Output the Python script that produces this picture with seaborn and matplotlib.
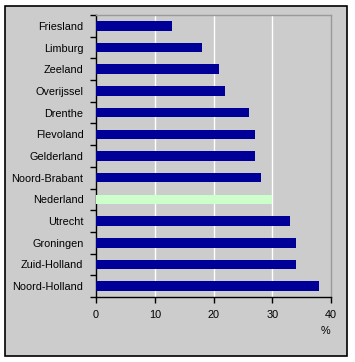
import matplotlib
matplotlib.use("Agg")
import matplotlib.pyplot as plt
import seaborn as sns
import pandas as pd
from matplotlib.patches import Rectangle

provinces = ["Friesland", "Limburg", "Zeeland", "Overijssel", "Drenthe", "Flevoland",
             "Gelderland", "Noord-Brabant", "Nederland", "Utrecht", "Groningen",
             "Zuid-Holland", "Noord-Holland"]
values = [13, 18, 21, 22, 26, 27, 27, 28, 30, 33, 34, 34, 38]
x_ticks = [0, 10, 20, 30, 40]
unit_label = "%"

df = pd.DataFrame({"provincie": provinces, "waarde": values})
colors = {p: ("#CCFFCC" if p == "Nederland" else "#000099") for p in provinces}

sns.set_theme(style="white")
plt.rcParams['font.family'] = ['Liberation Sans', 'DejaVu Sans']

W, H, DPI = 355, 362, 100
fig = plt.figure(figsize=(W / DPI, H / DPI), dpi=DPI)
fig.patch.set_facecolor("white")

# outer frame
frame = Rectangle((5 / W, 6 / H), 342 / W, 350 / H, transform=fig.transFigure,
                  facecolor="#CCCCCC", edgecolor="black", linewidth=1.2, zorder=-10)
fig.patches.append(frame)

ax = fig.add_axes([96 / W, 1 - 297 / H, 235 / W, 282 / H])
ax.set_zorder(1)
ax.set_facecolor("#CCCCCC")
sns.barplot(data=df, x="waarde", y="provincie", hue="provincie", palette=colors,
            order=provinces, orient="h", width=0.44, legend=False, ax=ax,
            saturation=1, edgecolor="none", zorder=3)

ax.set_xlim(0, 40)
ax.set_ylim(len(provinces) - 0.5, -0.5)
ax.set_xticks(x_ticks)
ax.set_xticklabels([str(t) for t in x_ticks], fontsize=7.8, color="black")
ax.set_xlabel("")
ax.set_ylabel("")
ax.tick_params(axis="x", direction="out", length=4, width=1, color="black", pad=5, bottom=True)
ax.tick_params(axis="y", which="major", length=0, pad=9, labelsize=7.8, labelcolor="black")
ax.set_yticks([i - 0.5 for i in range(len(provinces) + 1)], minor=True)
ax.tick_params(axis="y", which="minor", direction="out", length=4, width=1, color="black", left=True)

for v in [10, 20, 30]:
    ax.axvline(v, color="white", linewidth=1, zorder=1)

for side in ["top", "right"]:
    ax.spines[side].set_color("#999999")
    ax.spines[side].set_linewidth(1)
for side in ["left", "bottom"]:
    ax.spines[side].set_color("black")
    ax.spines[side].set_linewidth(1)

fig.text(325 / W, 1 - 331 / H, unit_label, fontsize=7.8, ha="center", va="center", color="black", zorder=5)

fig.savefig("out.png", dpi=DPI, facecolor=fig.get_facecolor())
